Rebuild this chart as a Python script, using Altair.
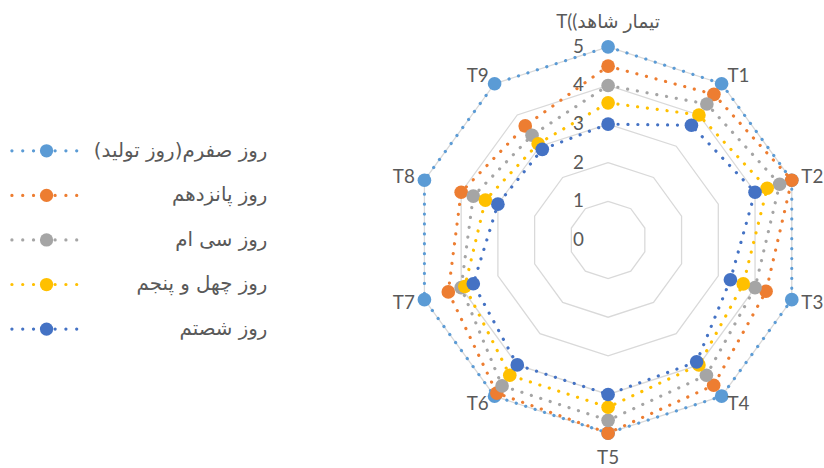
import math
import altair as alt
import pandas as pd

# ---------------- data ----------------
categories = ["T((تیمار شاهد", "T1", "T2", "T3", "T4", "T5", "T6", "T7", "T8", "T9"]

series_names = [
    "(روز تولید\u200e)\u200eروز صفرم",
    "روز پانزدهم",
    "روز سی ام",
    "روز چهل و پنجم",
    "روز شصتم",
]
colors = ["#5B9BD5", "#ED7D31", "#A5A5A5", "#FFC000", "#4472C4"]

day0 = [5, 5, 5, 5, 5, 5, 5, 5, 5, 5]
day15 = [4.5, 4.66, 5.0, 4.3, 4.65, 5.0, 4.9, 4.35, 4.0, 3.65]
day30 = [4.0, 4.35, 4.67, 4.0, 4.33, 4.67, 4.67, 4.0, 3.67, 3.35]
day45 = [3.55, 4.0, 4.33, 3.68, 4.0, 4.33, 4.33, 3.9, 3.34, 3.08]
day60 = [3.0, 3.67, 4.0, 3.33, 3.9, 4.0, 4.0, 3.67, 3.0, 2.9]
all_values = [day0, day15, day30, day45, day60]

ring_levels = [1, 2, 3, 4, 5]
axis_ticks = [0, 1, 2, 3, 4, 5]

# ---------------- tables ----------------
n = len(categories)
rows = []
for s, vals in zip(series_names, all_values):
    for i in range(n + 1):
        rows.append({"series": s, "idx": i % n, "ord": i, "value": vals[i % n]})
series_df = pd.DataFrame(rows)

ring_rows = []
for lv in ring_levels:
    for i in range(n + 1):
        ring_rows.append({"level": lv, "idx": i % n, "ord": i, "value": lv})
ring_df = pd.DataFrame(ring_rows)

cat_df = pd.DataFrame({"cat": categories, "idx": list(range(n))})
tick_df = pd.DataFrame({"level": axis_ticks})
leg_df = pd.DataFrame({"series": series_names})

# ---------------- geometry ----------------
UNIT = 39.0          # pixels per value unit
RW, RH = 534, 468    # radar panel size
CX, CY = 324, 240    # centre inside radar panel
xdom = [-CX / UNIT, (RW - CX) / UNIT]
ydom = [-(RH - CY) / UNIT, CY / UNIT]

xs = alt.Scale(domain=xdom, nice=False, zero=False)
ys = alt.Scale(domain=ydom, nice=False, zero=False)
X = alt.X("px:Q", scale=xs, axis=None)
Y = alt.Y("py:Q", scale=ys, axis=None)

ang = f"datum.idx * 2 * PI / {n}"


def polar(ch):
    return ch.transform_calculate(
        px=f"datum.value * sin({ang})",
        py=f"datum.value * cos({ang})",
    )


grid = polar(
    alt.Chart(ring_df).mark_line(color="#D9D9D9", strokeWidth=1.3)
).encode(x=X, y=Y, detail="level:N", order="ord:Q")

layers = [grid]
for s, c in zip(series_names, colors):
    base = alt.Chart(series_df).transform_filter(alt.FieldEqualPredicate(field="series", equal=s))
    line = polar(
        base.mark_line(color=c, strokeWidth=3.2, strokeDash=[0.1, 9.9], strokeCap="round")
    ).encode(x=X, y=Y, order="ord:Q")
    pts = polar(
        base.transform_filter(f"datum.ord < {n}").mark_circle(color=c, size=190, opacity=1)
    ).encode(x=X, y=Y)
    layers += [line, pts]

tick_text = alt.Chart(tick_df).transform_calculate(px="0", py="datum.level").mark_text(
    fontSize=19, font="Lato", color="#595959", dx=-30, align="center", baseline="middle"
).encode(x=X, y=Y, text="level:Q")
layers.append(tick_text)

lab_base = alt.Chart(cat_df).transform_calculate(
    rl=f"abs(sin({ang})) < 0.1 ? 5.65 : 5.26"
).transform_calculate(
    px=f"datum.rl * sin({ang})",
    py=f"datum.rl * cos({ang})",
)
label_style = dict(fontSize=19, font="Lato, DejaVu Sans", color="#595959", baseline="middle")
lab_right = lab_base.transform_filter("datum.idx > 0 && datum.idx < 5").mark_text(
    align="left", **label_style).encode(x=X, y=Y, text="cat:N")
lab_left = lab_base.transform_filter("datum.idx > 5").mark_text(
    align="right", **label_style).encode(x=X, y=Y, text="cat:N")
lab_mid = lab_base.transform_filter("datum.idx == 0 || datum.idx == 5").mark_text(
    align="center", **label_style).encode(x=X, y=Y, text="cat:N")
layers += [lab_right, lab_left, lab_mid]

radar = alt.layer(*layers).properties(width=RW, height=RH)

# ---------------- legend panel ----------------
LY = alt.Y("series:N", scale=alt.Scale(type="point", domain=series_names, range=[150, 330], padding=0), axis=None)
LC = alt.Color("series:N", scale=alt.Scale(domain=series_names, range=colors), legend=None)
leg_line = alt.Chart(leg_df).mark_rule(
    strokeWidth=3.2, strokeDash=[0.1, 10.8], strokeCap="round"
).encode(x=alt.value(12), x2=alt.value(80), y=LY, color=LC)
leg_pt = alt.Chart(leg_df).mark_circle(size=180, opacity=1).encode(x=alt.value(47), y=LY, color=LC)
leg_txt = alt.Chart(leg_df).mark_text(
    align="right", baseline="middle", fontSize=20, font="DejaVu Sans", color="#595959"
).encode(x=alt.value(270), y=LY, text="series:N")
legend = alt.layer(leg_line, leg_pt, leg_txt).properties(width=290, height=468)

chart = (
    alt.hconcat(legend, radar, spacing=0)
    .properties(padding=0, background="white")
    .configure_view(stroke=None)
)
chart.save("out.html", embed_options={"renderer": "svg", "actions": False})
